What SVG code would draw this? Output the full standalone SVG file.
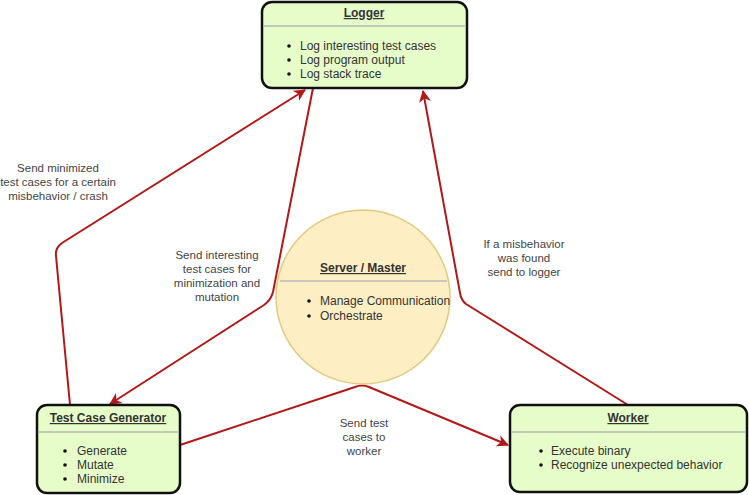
<svg xmlns="http://www.w3.org/2000/svg" width="749" height="495" viewBox="0 0 749 495">
<style>
.box{fill:#e6fcc9;stroke:#111;stroke-width:2.5}
.sep{stroke:#b8b8b8;stroke-width:1.5}
.title{font-family:"Liberation Sans",Arial,sans-serif;font-size:12px;font-weight:bold;fill:#333;text-decoration:underline;text-anchor:middle}
.item{font-family:"Liberation Sans",Arial,sans-serif;font-size:12px;fill:#333}
.lbl{font-family:"Liberation Sans",Arial,sans-serif;font-size:11.5px;fill:#444;text-anchor:middle}
.edge{fill:none;stroke:#b21818;stroke-width:2;stroke-linejoin:round}
</style>
<defs>
<marker id="arr" markerWidth="12" markerHeight="12" refX="11" refY="6" orient="auto" markerUnits="userSpaceOnUse" viewBox="0 0 12 12">
<path d="M0,0 L12,6 L0,12 L3.5,6 Z" fill="#b21818"/>
</marker>
</defs>
<g id="connectors">
<path class="edge" d="M70,405 L56,256 Q55,248 62,243 L305,90" marker-end="url(#arr)"/>
<path class="edge" d="M313,88 L273,292 Q271,300 264,305 L110,404" marker-end="url(#arr)"/>
<path class="edge" d="M628,405 L466,304 Q461,300 460,293 L423,91" marker-end="url(#arr)"/>
<path class="edge" d="M180,445 L355,387 Q362,384 369,387 L508,445" marker-end="url(#arr)"/>
</g>
<g id="labels">
<text class="lbl" x="58" y="172">Send minimized</text>
<text class="lbl" x="58" y="186">test cases for a certain</text>
<text class="lbl" x="58" y="200">misbehavior / crash</text>
<text class="lbl" x="217" y="259">Send interesting</text>
<text class="lbl" x="217" y="273">test cases for</text>
<text class="lbl" x="217" y="287">minimization and</text>
<text class="lbl" x="217" y="301">mutation</text>
<text class="lbl" x="524" y="248">If a misbehavior</text>
<text class="lbl" x="524" y="262">was found</text>
<text class="lbl" x="524" y="276">send to logger</text>
<text class="lbl" x="364" y="427">Send test</text>
<text class="lbl" x="364" y="441">cases to</text>
<text class="lbl" x="364" y="455">worker</text>
</g>
<g id="logger">
<rect class="box" x="262" y="2" width="205" height="86" rx="10"/>
<line class="sep" x1="263" y1="26" x2="466" y2="26"/>
<text class="title" x="364" y="17">Logger</text>
<circle cx="289" cy="46" r="1.8" fill="#111"/>
<circle cx="289" cy="60" r="1.8" fill="#111"/>
<circle cx="289" cy="74" r="1.8" fill="#111"/>
<text class="item" x="300" y="50">Log interesting test cases</text>
<text class="item" x="300" y="64">Log program output</text>
<text class="item" x="300" y="78">Log stack trace</text>
</g>
<g id="server">
<circle cx="363" cy="297" r="87" fill="#fdeec3" stroke="#e2c97e" stroke-width="1.5"/>
<line class="sep" x1="280" y1="281" x2="447" y2="281"/>
<text class="title" x="363" y="272">Server / Master</text>
<circle cx="309" cy="301" r="1.8" fill="#111"/>
<circle cx="309" cy="316" r="1.8" fill="#111"/>
<text class="item" x="320" y="305">Manage Communication</text>
<text class="item" x="320" y="320">Orchestrate</text>
</g>
<g id="generator">
<rect class="box" x="37" y="405" width="143" height="88" rx="10"/>
<line class="sep" x1="38" y1="432" x2="179" y2="432"/>
<text class="title" x="108" y="422">Test Case Generator</text>
<circle cx="65" cy="451" r="1.8" fill="#111"/>
<circle cx="65" cy="465" r="1.8" fill="#111"/>
<circle cx="65" cy="479" r="1.8" fill="#111"/>
<text class="item" x="77" y="455">Generate</text>
<text class="item" x="77" y="469">Mutate</text>
<text class="item" x="77" y="483">Minimize</text>
</g>
<g id="worker">
<rect class="box" x="510" y="405" width="237" height="87" rx="10"/>
<line class="sep" x1="511" y1="432" x2="746" y2="432"/>
<text class="title" x="628" y="422">Worker</text>
<circle cx="541" cy="451" r="1.8" fill="#111"/>
<circle cx="541" cy="465" r="1.8" fill="#111"/>
<text class="item" x="551" y="455">Execute binary</text>
<text class="item" x="551" y="469">Recognize unexpected behavior</text>
</g>
</svg>
